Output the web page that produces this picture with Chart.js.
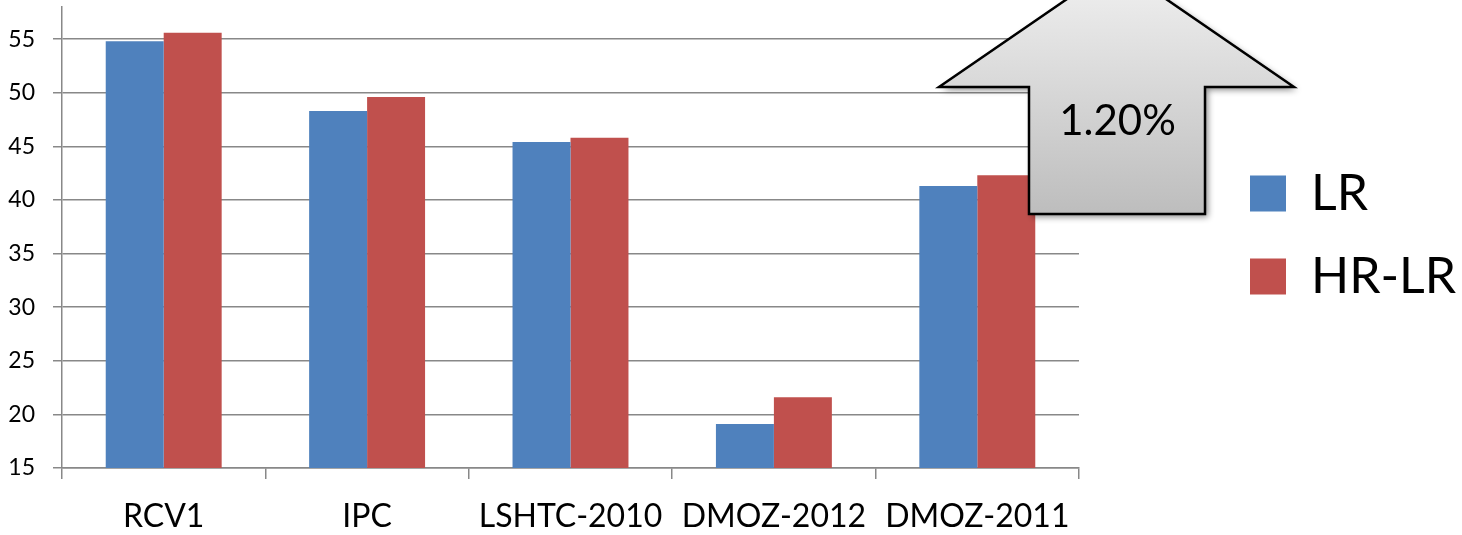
<!DOCTYPE html>
<html>
<head>
<meta charset="utf-8">
<script src="https://cdn.jsdelivr.net/npm/chart.js@4"></script>
<style>
  html, body { margin: 0; padding: 0; background: #ffffff; }
  #wrap { width: 1462px; height: 535px; }
</style>
</head>
<body>
<div id="wrap"><canvas id="c" width="1462" height="535"></canvas></div>
<script>
// Accuracy per dataset for the two classifiers
const categories = ['RCV1', 'IPC', 'LSHTC-2010', 'DMOZ-2012', 'DMOZ-2011'];
const seriesNames = ['LR', 'HR-LR'];
const lrValues = [54.8, 48.3, 45.4, 19.1, 41.3];
const hrLrValues = [55.6, 49.6, 45.8, 21.6, 42.3];
const yTicks = [15, 20, 25, 30, 35, 40, 45, 50, 55];
const gainLabel = '1.20%';

const BLUE = '#4F81BD';
const RED = '#C0504D';
const GRID = '#888888';
const FONT = 'Lato';

// Legend sits in a wide column to the right of the plot, items pushed toward the right edge
const LEGEND_WIDTH = 383;
const LEGEND_SHIFT_X = 138;
const LEGEND_SHIFT_Y = -36;
const legendPlacement = {
  id: 'legendPlacement',
  afterInit(chart) {
    const lg = chart.legend;
    if (!lg) return;
    const fit = lg.fit;
    lg.fit = function () {
      fit.call(this);
      this.width = LEGEND_WIDTH;
    };
    const draw = lg.draw;
    lg.draw = function () {
      this.left += LEGEND_SHIFT_X;
      this.top += LEGEND_SHIFT_Y;
      this.bottom += LEGEND_SHIFT_Y;
      draw.call(this);
      this.left -= LEGEND_SHIFT_X;
      this.top -= LEGEND_SHIFT_Y;
      this.bottom -= LEGEND_SHIFT_Y;
    };
  }
};

// Grey block arrow with the improvement figure, drawn over the plot
const gainArrow = {
  id: 'gainArrow',
  afterDraw(chart) {
    const ctx = chart.ctx;
    const pts = [
      [1116.5, -35], [1294, 87], [1205, 87], [1205, 214],
      [1029, 214], [1029, 87], [939, 87]
    ];
    ctx.save();
    ctx.beginPath();
    pts.forEach((p, i) => (i ? ctx.lineTo(p[0], p[1]) : ctx.moveTo(p[0], p[1])));
    ctx.closePath();
    const g = ctx.createLinearGradient(0, -35, 0, 214);
    g.addColorStop(0, '#f2f2f2');
    g.addColorStop(1, '#bdbdbd');
    ctx.fillStyle = g;
    ctx.shadowColor = 'rgba(0,0,0,0.45)';
    ctx.shadowBlur = 6;
    ctx.shadowOffsetX = 3;
    ctx.shadowOffsetY = 3;
    ctx.fill();
    ctx.shadowColor = 'transparent';
    ctx.lineWidth = 2.5;
    ctx.lineJoin = 'miter';
    ctx.strokeStyle = '#000000';
    ctx.stroke();
    ctx.fillStyle = '#000000';
    ctx.font = '42px ' + FONT;
    ctx.textAlign = 'center';
    ctx.textBaseline = 'alphabetic';
    ctx.fillText(gainLabel, 1117.5, 135);
    ctx.restore();
  }
};

new Chart(document.getElementById('c'), {
  type: 'bar',
  data: {
    labels: categories,
    datasets: [
      { label: seriesNames[0], data: lrValues, backgroundColor: BLUE, borderWidth: 0 },
      { label: seriesNames[1], data: hrLrValues, backgroundColor: RED, borderWidth: 0 }
    ]
  },
  options: {
    responsive: false,
    animation: false,
    devicePixelRatio: 1,
    categoryPercentage: 0.57,
    barPercentage: 1.0,
    layout: { padding: { left: 8, top: 7, right: 0, bottom: 0 } },
    plugins: {
      tooltip: { enabled: false },
      legend: {
        position: 'right',
        align: 'center',
        labels: {
          boxWidth: 36,
          boxHeight: 36,
          padding: 33,
          color: '#000000',
          font: { family: FONT, size: 50 }
        }
      }
    },
    scales: {
      x: {
        type: 'category',
        afterFit(scale) {
          scale.height = 67;
        },
        grid: {
          display: true,
          drawOnChartArea: false,
          drawTicks: true,
          tickLength: 11,
          color: GRID,
          lineWidth: 1.5,
          offset: true
        },
        border: { display: true, color: GRID, width: 1.5 },
        ticks: {
          color: '#000000',
          padding: 18,
          maxRotation: 0,
          autoSkip: false,
          font: { family: FONT, size: 32 }
        }
      },
      y: {
        min: 15,
        max: 58,
        afterBuildTicks(scale) {
          scale.ticks = yTicks.map(v => ({ value: v }));
        },
        afterFit(scale) {
          scale.paddingTop = 0;
          scale.width = 54;
        },
        grid: {
          color: GRID,
          lineWidth: 1.5,
          tickLength: 9,
          drawTicks: true
        },
        border: { display: true, color: GRID, width: 1.5 },
        ticks: {
          color: '#000000',
          padding: 18,
          font: { family: FONT, size: 23 }
        }
      }
    }
  },
  plugins: [legendPlacement, gainArrow]
});
</script>
</body>
</html>
